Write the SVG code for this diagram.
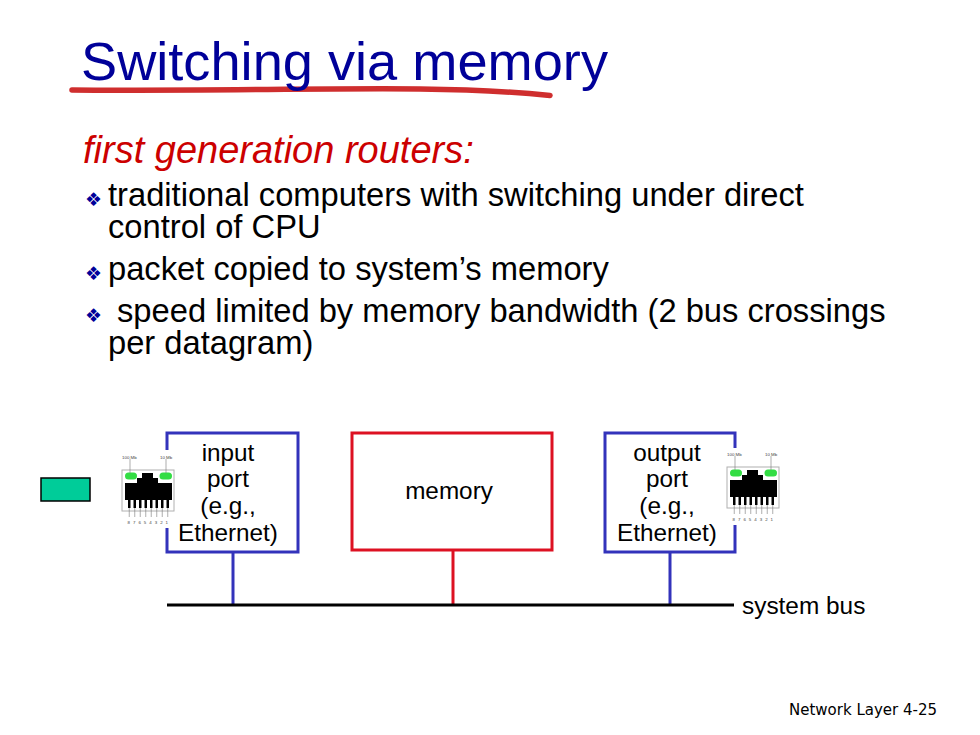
<svg xmlns="http://www.w3.org/2000/svg" width="980" height="735" viewBox="0 0 980 735">
<style>
text{font-family:"Liberation Sans",Arial,sans-serif;fill:#000}
.b{font-size:32.7px}
.bu{font-family:"DejaVu Sans",sans-serif;font-size:19px;fill:#000099}
.l{font-size:24.3px;text-anchor:middle}
.box{fill:#fff;stroke:#3333bb;stroke-width:3}
.conn{fill:none;stroke-width:3}
.ml{font-size:4.4px;fill:#444}
</style>
<defs>
<g id="rj45">
<rect x="0" y="0" width="52" height="41" fill="#fff" stroke="#b0b0b0" stroke-width="1"/>
<path d="M3 38V13H15V8H20V3H31V8H36V13H50V38Z" fill="#000"/>
<g fill="#fff">
<rect x="3" y="30" width="3" height="8"/><rect x="8.500" y="30" width="3" height="8"/><rect x="14" y="30" width="3" height="8"/><rect x="19.500" y="30" width="3" height="8"/><rect x="25" y="30" width="3" height="8"/><rect x="30.500" y="30" width="3" height="8"/><rect x="36" y="30" width="3" height="8"/><rect x="41.500" y="30" width="3" height="8"/><rect x="47" y="30" width="3" height="8"/>
</g>
<rect x="3" y="2.500" width="12" height="7" rx="3.500" fill="#33dd44"/>
<rect x="37.500" y="2.500" width="12.500" height="7" rx="3.500" fill="#33dd44"/>
<path d="M8 -11V3M44 -11V3M7.250 38V47M12.750 38V47M18.250 38V47M23.750 38V47M29.250 38V47M34.750 38V47M40.250 38V47M45.750 38V47" stroke="#777" stroke-width="0.600" fill="none"/>
<text class="ml" x="0" y="-11.500">100 Mb</text>
<text class="ml" x="38" y="-11.500">10 Mb</text>
<text class="ml" x="5.500" y="53.500" style="letter-spacing:3px">87654321</text>
</g>
</defs>

<g id="title">
<path d="M72 90C200 91 330 88 420 89C470 89.500 520 92.500 550 95.500" fill="none" stroke="#cf2e2e" stroke-width="5.500" stroke-linecap="round"/>
<text x="81" y="80" style="font-size:54.2px;fill:#000099">Switching via memory</text>
</g>

<g id="body">
<text x="83" y="163" style="font-size:38px;font-style:italic;fill:#cc0000">first generation routers:</text>
<text class="bu" x="85" y="206">❖</text>
<text class="b" x="108" y="206">traditional computers with switching under direct</text>
<text class="b" x="108" y="238">control of CPU</text>
<text class="bu" x="85" y="280">❖</text>
<text class="b" x="108" y="280">packet copied to system’s memory</text>
<text class="bu" x="85" y="322">❖</text>
<text class="b" x="117" y="322">speed limited by memory bandwidth (2 bus crossings</text>
<text class="b" x="108" y="354">per datagram)</text>
</g>

<g id="connectors">
<path class="conn" d="M233 552V605" stroke="#3333bb"/>
<path class="conn" d="M453 550V605" stroke="#dd1122"/>
<path class="conn" d="M670 552V605" stroke="#3333bb"/>
<path class="conn" d="M167 605H734" stroke="#000"/>
</g>

<g id="input-port">
<rect class="box" x="167" y="433" width="131" height="119"/>
<rect x="121" y="450" width="54" height="78" fill="#fff"/>
<text class="l" x="228" y="461">input</text>
<text class="l" x="228" y="487">port</text>
<text class="l" x="228" y="514">(e.g.,</text>
<text class="l" x="228" y="541">Ethernet)</text>
</g>
<use id="input-jack" href="#rj45" x="122" y="470"/>

<g id="memory">
<rect x="352" y="433" width="200" height="117" fill="#fff" stroke="#dd1122" stroke-width="3"/>
<text class="l" x="449" y="499">memory</text>
</g>

<g id="output-port">
<rect class="box" x="605" y="433" width="130" height="119"/>
<rect x="725" y="448" width="55" height="77" fill="#fff"/>
<text class="l" x="667" y="461">output</text>
<text class="l" x="667" y="487">port</text>
<text class="l" x="667" y="514">(e.g.,</text>
<text class="l" x="667" y="541">Ethernet)</text>
</g>
<use id="output-jack" href="#rj45" x="727" y="467"/>

<g id="packet">
<rect x="41" y="478" width="49" height="23" fill="#00cc99" stroke="#000" stroke-width="1.500"/>
</g>

<text id="bus-label" x="742" y="614" style="font-size:24.4px">system bus</text>
<text id="footer" x="789" y="715" style="font-family:'DejaVu Sans',sans-serif;font-size:15px">Network Layer  4-25</text>
</svg>
